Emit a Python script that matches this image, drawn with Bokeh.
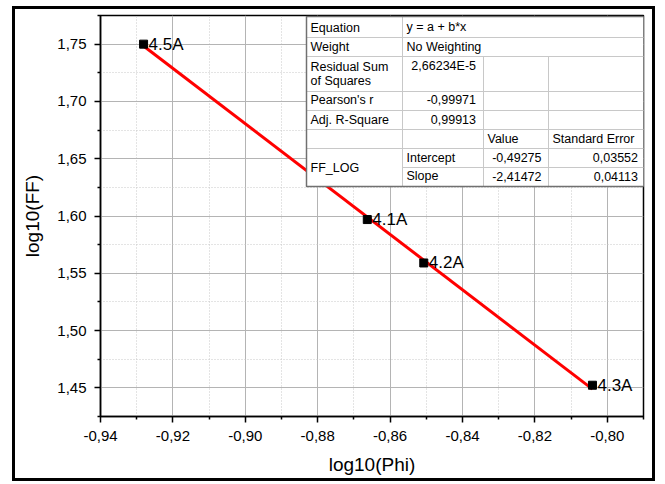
from bokeh.plotting import figure
from bokeh.models import FixedTicker, CustomJSTickFormatter, Range1d, ColumnDataSource
from bokeh.core.properties import value
from bokeh.embed import file_html
from bokeh.resources import INLINE

# ---------------- data ----------------
point_labels = ["4.5A", "4.1A", "4.2A", "4.3A"]
log_phi = [-0.9281, -0.8663, -0.8507, -0.8041]
log_ff = [1.7500, 1.5969, 1.5590, 1.4523]

fit_intercept = -0.49275
fit_slope = -2.41472

x_major_ticks = [-0.94, -0.92, -0.90, -0.88, -0.86, -0.84, -0.82, -0.80]
x_minor_ticks = [-0.93, -0.91, -0.89, -0.87, -0.85, -0.83, -0.81, -0.79]
y_major_ticks = [1.45, 1.50, 1.55, 1.60, 1.65, 1.70, 1.75]
y_minor_ticks = [1.425, 1.475, 1.525, 1.575, 1.625, 1.675, 1.725, 1.775]

stat_names = ["Equation", "Weight", "Residual Sum", "of Squares", "Pearson's r", "Adj. R-Square", "FF_LOG"]
stat_text_values = ["y = a + b*x", "No Weighting"]
stat_num_values = ["2,66234E-5", "-0,99971", "0,99913"]
param_header = ["Value", "Standard Error"]
param_names = ["Intercept", "Slope"]
param_values = ["-0,49275", "-2,41472"]
param_errors = ["0,03552", "0,04113"]

# ---------------- layout helpers ----------------
X_LO, X_HI = -0.94, -0.79
Y_LO, Y_HI = 1.425, 1.775
FRAME_L, FRAME_R, FRAME_T, FRAME_B = 100, 643, 15, 416   # page pixels


def dx(px):
    return X_LO + (px - FRAME_L) * (X_HI - X_LO) / (FRAME_R - FRAME_L)


def dy(py):
    return Y_HI - (py - FRAME_T) * (Y_HI - Y_LO) / (FRAME_B - FRAME_T)


FONT = "Liberation Sans"

p = figure(width=643, height=475,
           x_range=Range1d(X_LO, X_HI), y_range=Range1d(Y_LO, Y_HI),
           output_backend="svg", toolbar_location=None,
           min_border_left=85, min_border_right=15, min_border_top=6, min_border_bottom=68,
           x_axis_label="log10(Phi)", y_axis_label="log10(FF)")
p.margin = (6, 0, 0, 12)
p.styles = {"border": "3px solid black"}
p.background_fill_color = "white"
p.border_fill_color = "white"
p.outline_line_color = "black"
p.outline_line_width = 1.5

fmt = CustomJSTickFormatter(code="return tick.toFixed(2).replace('.', ',');")
for ax, maj, mnr in ((p.xaxis[0], x_major_ticks, x_minor_ticks), (p.yaxis[0], y_major_ticks, y_minor_ticks)):
    ax.ticker = FixedTicker(ticks=maj, minor_ticks=mnr)
    ax.formatter = fmt
    ax.axis_line_color = "black"
    ax.axis_line_width = 1.5
    ax.major_tick_line_color = "black"
    ax.major_tick_line_width = 1.5
    ax.minor_tick_line_color = "black"
    ax.minor_tick_line_width = 1.5
    ax.major_tick_out = 6
    ax.major_tick_in = 0
    ax.minor_tick_out = 3
    ax.minor_tick_in = 0
    ax.major_label_text_font = FONT
    ax.major_label_text_font_size = "15px"
    ax.major_label_text_color = "black"
    ax.major_label_standoff = 8
    ax.axis_label_text_font = FONT
    ax.axis_label_text_font_size = "19px"
    ax.axis_label_text_font_style = "normal"
    ax.axis_label_text_color = "black"
p.xaxis[0].axis_label_standoff = 10
p.yaxis[0].axis_label_standoff = 11

for g in (p.xgrid[0], p.ygrid[0]):
    g.grid_line_color = "#b4b4b4"
    g.grid_line_width = 1
    g.minor_grid_line_color = "#c8c8c8"
    g.minor_grid_line_dash = "1 2"
    g.minor_grid_line_width = 1

# ---------------- fit line + points ----------------
x_fit = [min(log_phi), max(log_phi)]
y_fit = [fit_intercept + fit_slope * v for v in x_fit]
p.line(x_fit, y_fit, line_color="red", line_width=3)

src = ColumnDataSource(dict(x=log_phi, y=log_ff, t=point_labels))
p.scatter("x", "y", source=src, marker="square", size=8, color="black")
p.text("x", "y", text="t", source=src, x_offset=5, y_offset=0,
       text_font=value(FONT), text_font_size="17px", text_color="black",
       text_baseline="alphabetic", text_align="left")

# ---------------- statistics table ----------------
cols = [306, 402, 483, 548, 644]
rows = [16, 37, 56, 91, 110, 129, 148, 167, 186]

p.quad(left=dx(cols[0]), right=dx(cols[4]), top=dy(rows[0]), bottom=dy(rows[-1]),
       fill_color="white", line_color=None)

# inner lines
hx0, hx1, hy = [], [], []
for r in rows[1:7]:
    hx0.append(dx(cols[0])); hx1.append(dx(cols[4])); hy.append(dy(r))
hx0.append(dx(cols[1])); hx1.append(dx(cols[4])); hy.append(dy(rows[7]))
p.segment(x0=hx0, x1=hx1, y0=hy, y1=hy, line_color="#c8c8c8", line_width=1)

vx = [dx(cols[1]), dx(cols[2]), dx(cols[3])]
vy0 = [dy(rows[0]), dy(rows[2]), dy(rows[2])]
vy1 = [dy(rows[-1])] * 3
p.segment(x0=vx, x1=vx, y0=vy0, y1=vy1, line_color="#c8c8c8", line_width=1)

p.quad(left=dx(cols[0]), right=dx(cols[4]), top=dy(rows[0]), bottom=dy(rows[-1]),
       fill_color=None, line_color="#707070", line_width=1.5)

tbl_font = dict(text_font=value(FONT), text_font_size="12.5px", text_color="black",
                text_baseline="alphabetic")
SHIFT = -4.5

# left-aligned texts
lx = [310] * 7 + [406, 406, 406, 406, 487, 552]
lby = [31.5, 51, 70.5, 84.5, 104, 124, 171.5, 31, 51, 161.5, 180, 142.5, 142.5]
ltxt = stat_names + stat_text_values + param_names + param_header
p.text(x=[dx(v) for v in lx], y=[dy(v + SHIFT) for v in lby], text=ltxt, text_align="left", **tbl_font)

# right-aligned texts
rx = [475.5] * 3 + [541, 541, 637.5, 637.5]
rby = [69.5, 103.5, 123, 161.5, 180, 161.5, 180]
rtxt = stat_num_values + param_values + param_errors
p.text(x=[dx(v) for v in rx], y=[dy(v + SHIFT) for v in rby], text=rtxt, text_align="right", **tbl_font)

open("out.html", "w").write(file_html(p, INLINE))
